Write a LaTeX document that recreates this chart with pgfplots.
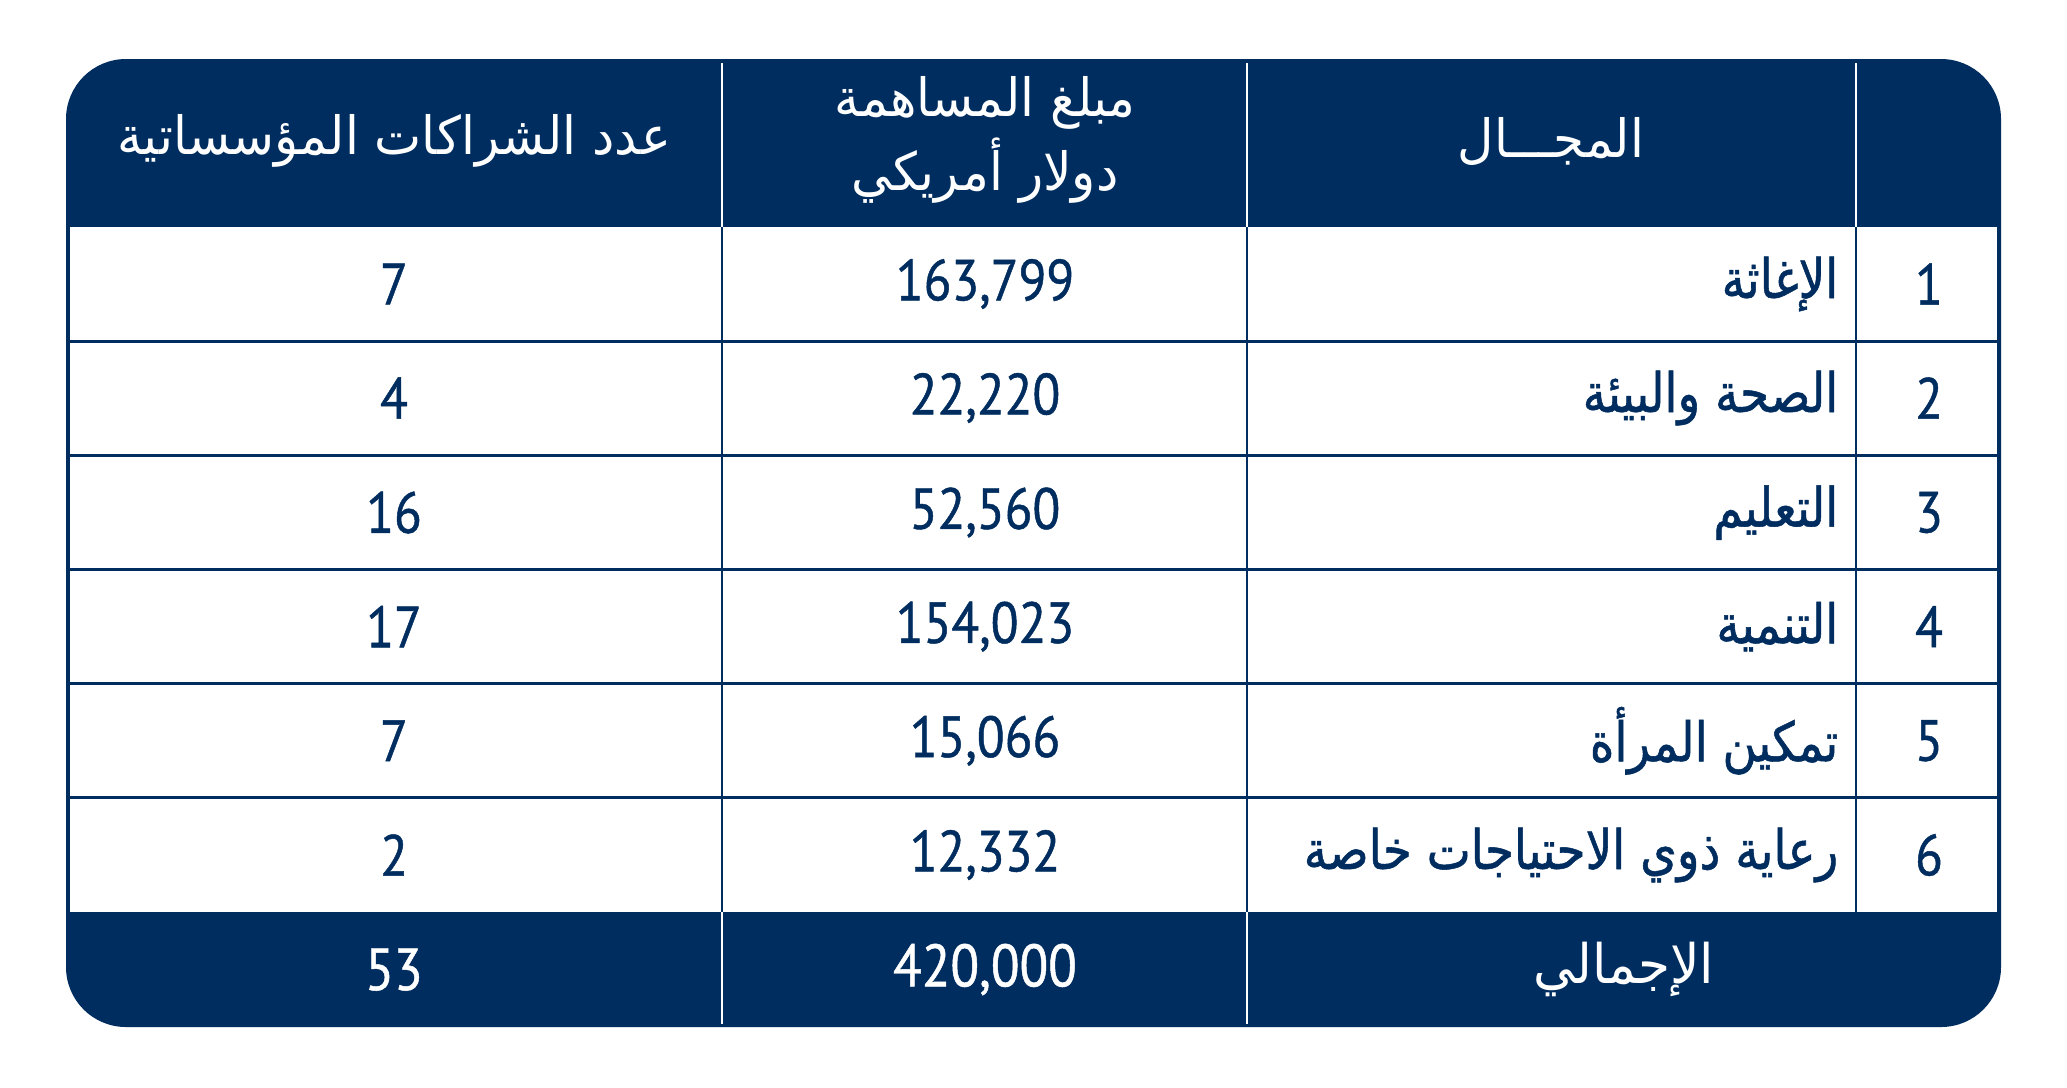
\documentclass[border=0pt]{standalone}
\usepackage{pgfplots}
\pgfplotsset{compat=1.18}
\usepackage{pgfplotstable}
\usepackage{fontspec}
\setmainfont{PT Sans}
\newfontfamily\arabicfont[Script=Arabic, FakeStretch=0.95]{DejaVu Sans}
\newfontfamily\arabicbold[Script=Arabic, FakeStretch=0.86, FakeBold=1.0]{DejaVu Sans}
\newfontfamily\numfont[FakeStretch=0.88, FakeBold=0.8]{PT Sans}
\TeXXeTstate=1
\definecolor{navy}{HTML}{002D5F}
\pgfplotstableread{
x y label
985 284 163,799
985 398 22,220
985 512.5 52,560
985 626.6 154,023
985 740.7 15,066
985 855 12,332
}\amounts
\pgfplotstableread{
x y label
394 284 7
394 398 4
394 512.5 16
394 626.6 17
394 740.7 7
394 855 2
}\counts
\pgfplotstableread{
x y label
1929 284 1
1929 398 2
1929 512.5 3
1929 626.6 4
1929 740.7 5
1929 855 6
}\indices
\pgfplotstableread{
x y label
394 969.5 53
985 969.5 420,000
}\totals
\begin{document}
\begin{tikzpicture}
\begin{axis}[
  width=20.67cm, height=10.87cm, scale only axis,
  xmin=0, xmax=2067, ymin=0, ymax=1087, y dir=reverse,
  axis lines=none, clip=false,
  every axis plot/.append style={draw=none, mark=none, nodes near coords,
     point meta=explicit symbolic, nodes near coords align={anchor=center}},
]
\fill[white] (axis cs:0,0) rectangle (axis cs:2067,1087);
\fill[navy, rounded corners=6mm] (axis cs:66,59) rectangle (axis cs:2001,1027);
\fill[white] (axis cs:70,227) rectangle (axis cs:1997,912);
\pgfplotsinvokeforeach{341.2,455.3,569.5,683.7,797.8}{
  \draw[navy, line width=0.85pt] (axis cs:66,#1) -- (axis cs:2001,#1);
}
\pgfplotsinvokeforeach{722,1247,1856}{
  \draw[navy, line width=0.6pt] (axis cs:#1,227) -- (axis cs:#1,912);
  \draw[white, line width=0.6pt] (axis cs:#1,63) -- (axis cs:#1,227);
}
\pgfplotsinvokeforeach{722,1247}{
  \draw[white, line width=0.6pt] (axis cs:#1,912) -- (axis cs:#1,1024);
}
% header text
\node[text=white, font=\arabicfont\fontsize{15}{18}\selectfont] at (axis cs:394,141) {\beginR عدد الشراكات المؤسساتية\endR};
\node[text=white, font=\arabicfont\fontsize{15}{18}\selectfont] at (axis cs:985,103) {\beginR مبلغ المساهمة\endR};
\node[text=white, font=\arabicfont\fontsize{15}{18}\selectfont] at (axis cs:985,171) {\beginR دولار أمريكي\endR};
\node[text=white, font=\arabicfont\fontsize{15}{18}\selectfont] at (axis cs:1551,141) {\beginR المجـــال\endR};
% field names
\begin{scope}[every node/.style={anchor=east, inner sep=0pt, text=navy, font=\arabicbold\fontsize{15.5}{18}\selectfont}]
\node at (axis cs:1839,284) {\beginR الإغاثة\endR};
\node at (axis cs:1839,398) {\beginR الصحة والبيئة\endR};
\node at (axis cs:1839,512.5) {\beginR التعليم\endR};
\node at (axis cs:1839,626.6) {\beginR التنمية\endR};
\node at (axis cs:1839,740.7) {\beginR تمكين المرأة\endR};
\node at (axis cs:1839,855) {\beginR رعاية ذوي الاحتياجات خاصة\endR};
\end{scope}
\node[text=white, font=\arabicfont\fontsize{15.5}{18}\selectfont] at (axis cs:1624,969.5) {\beginR الإجمالي\endR};
% numbers
\addplot[nodes near coords style={text=navy, font=\numfont\fontsize{16.5}{18}\selectfont}] table[meta=label] {\amounts};
\addplot[nodes near coords style={text=navy, font=\numfont\fontsize{16.5}{18}\selectfont}] table[meta=label] {\counts};
\addplot[nodes near coords style={text=navy, font=\numfont\fontsize{16.5}{18}\selectfont}] table[meta=label] {\indices};
\addplot[nodes near coords style={text=white, font=\numfont\fontsize{17}{18}\selectfont}] table[meta=label] {\totals};
\end{axis}
\end{tikzpicture}
\end{document}
